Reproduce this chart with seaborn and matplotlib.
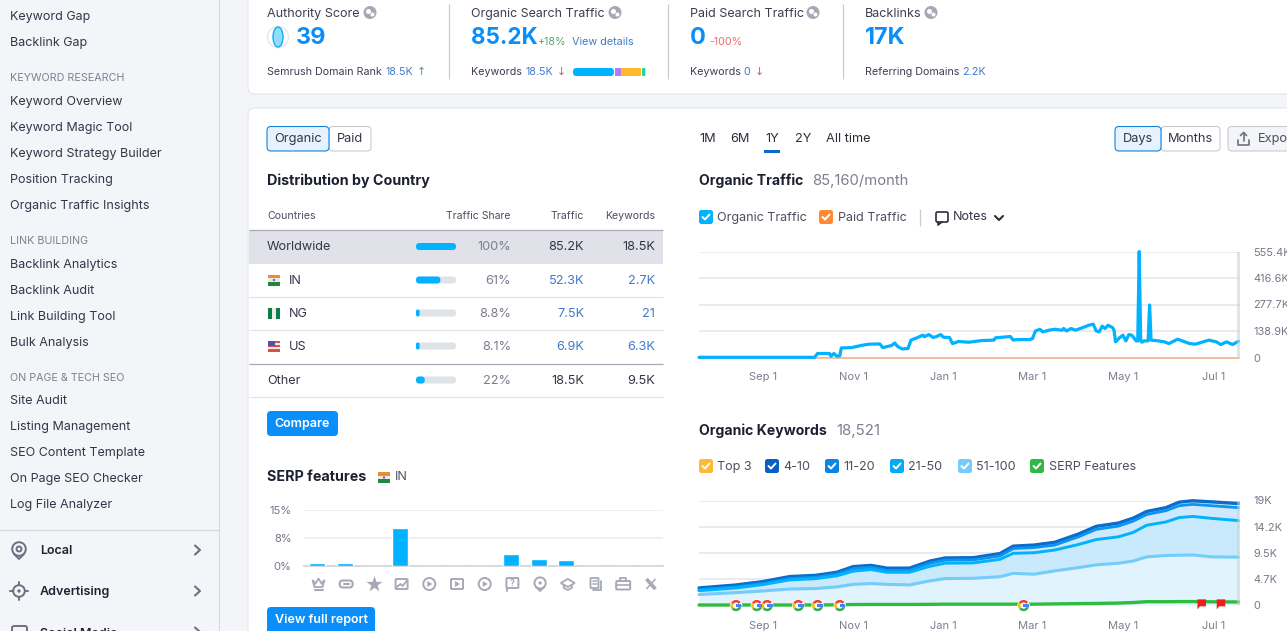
import matplotlib
matplotlib.use("Agg")
import matplotlib.pyplot as plt
from matplotlib.patches import FancyBboxPatch, Rectangle, Circle, Ellipse, Wedge, Polygon
import numpy as np
import pandas as pd
import seaborn as sns

# ---- data ----
# days are counted from start_date
start_date = "2023-07-20"
traffic_days = [0,78,80,88,89,91,93,95,96,103,110,115,122,124,130,132,134,137,141,143,147,151,152,155,158,160,163,165,169,171,
    175,182,191,199,200,210,212,214,219,223,225,227,230,232,236,240,245,246,248,251,254,259,263,266,268,270,272,274,276,279,
    280,281,284,286,288,290,292,295,296,297,298,299,300,303,304,305,310,314,317,323,326,331,335,341,344,349,352,356,360,364]
organic_traffic = [1,1,21,21,7,21,7,9,50,52,64,70,71,52,63,76,58,45,47,91,103,117,109,120,105,109,120,106,105,73,
    84,80,89,91,103,110,91,94,94,94,99,139,148,134,143,148,143,152,139,152,143,157,169,175,139,134,164,152,169,157,
    143,82,105,117,87,120,117,87,87,555,87,80,87,87,275,91,87,82,73,96,87,73,70,84,91,82,68,82,68,85]
paid_days = [0, 364]
paid_traffic = [0, 0]

kw_days = [0,25,43,61,79,93,104,116,127,142,156,166,185,203,212,226,240,256,268,283,293,302,315,324,333,346,364]
kw_top3 = [3.15,3.7,4.3,5.2,5.45,6.0,7.0,7.25,6.75,6.75,8.05,8.6,8.65,9.4,10.75,10.95,11.45,12.95,14.35,14.95,15.85,17.05,17.75,18.75,19.0,18.8,18.55]
kw_4_10 = [3.1,3.64,4.25,5.16,5.4,5.95,6.98,7.2,6.7,6.7,8.0,8.55,8.6,9.35,10.7,10.9,11.4,12.9,14.3,14.9,15.8,17.0,17.7,18.7,18.95,18.75,18.45]
kw_11_20 = [2.8,3.3,3.9,4.8,5.05,5.6,6.6,6.85,6.3,6.3,7.6,8.15,8.2,8.9,10.25,10.45,10.9,12.4,13.75,14.35,15.25,16.45,17.15,18.05,18.3,18.05,17.7]
kw_21_50 = [2.6,3.1,3.7,4.55,4.8,5.3,6.15,6.45,5.95,5.95,7.05,7.6,7.65,8.3,9.4,9.5,10.0,11.0,11.9,12.4,13.2,14.5,15.1,15.9,16.1,15.75,15.35]
kw_51_100 = [1.9,2.25,2.55,2.9,3.0,3.3,3.75,3.9,3.75,3.65,4.4,4.8,4.85,5.15,5.75,5.6,6.2,6.8,7.3,7.6,8.0,8.75,9.0,9.05,9.1,8.75,8.7]
kw_serp = [0,0,0,0,0,0.03,0.08,0.1,0.1,0.1,0.12,0.15,0.15,0.15,0.15,0.15,0.2,0.25,0.28,0.35,0.45,0.6,0.6,0.62,0.62,0.58,0.55]

update_days = [25,39,46,67,80,95,219]
note_days = [339, 352]

traffic_ticks = [0, 138.9, 277.7, 416.6, 555.4]
traffic_ticklabels = ["0", "138.9K", "277.7K", "416.6K", "555.4K"]
kw_ticks = [0, 4.75, 9.5, 14.25, 19]
kw_ticklabels = ["0", "4.7K", "9.5K", "14.2K", "19K"]
month_ticks = ["2023-09-01","2023-11-01","2024-01-01","2024-03-01","2024-05-01","2024-07-01"]
month_labels = ["Sep 1","Nov 1","Jan 1","Mar 1","May 1","Jul 1"]

serp_names = ["Local pack","Sitelinks","Reviews","Images","Video","Featured video","Top video","People also ask",
    "Local teaser","Knowledge panel","Top stories","Jobs","X"]
serp_values = [0.8,0.8,0,10.1,0,0,0,3.2,1.8,1.6,0,0,0]

countries = ["Worldwide","IN","NG","US","Other"]
share_vals = [100,61,8.8,8.1,22]
share_txt = ["100%","61%","8.8%","8.1%","22%"]
traffic_txt = ["85.2K","52.3K","7.5K","6.9K","18.5K"]
keywords_txt = ["18.5K","2.7K","21","6.3K","9.5K"]

side_items = [("Keyword Gap",16),("Backlink Gap",42),("Keyword Overview",101),("Keyword Magic Tool",127),
    ("Keyword Strategy Builder",153),("Position Tracking",179),("Organic Traffic Insights",205),
    ("Backlink Analytics",264),("Backlink Audit",290),("Link Building Tool",316),("Bulk Analysis",342),
    ("Site Audit",400),("Listing Management",426),("SEO Content Template",452),("On Page SEO Checker",478),
    ("Log File Analyzer",504)]
side_heads = [("KEYWORD RESEARCH",77),("LINK BUILDING",240),("ON PAGE & TECH SEO",377)]

W, H = 1287, 631
BG = "#f4f5f9"
DARK = "#2b2e3b"
BLUE = "#0a8ffa"
LINK = "#3f7cc9"
ICON = "#a6a9b5"

sns.set_theme(style="white")
plt.rcParams["font.family"] = ["Inter", "DejaVu Sans"]

fig = plt.figure(figsize=(W / 100, H / 100), dpi=100, facecolor=BG)


def px_axes(z):
    a = fig.add_axes([0, 0, 1, 1], zorder=z)
    a.set_xlim(0, W)
    a.set_ylim(H, 0)
    a.axis("off")
    a.patch.set_alpha(0)
    return a


ui = px_axes(0)
top = px_axes(5)


def txt(x, y, s, px=13, color=DARK, weight="normal", ha="left", a=None, **kw):
    (a or ui).text(x, y + 1.2, s, fontsize=px * 0.72, color=color, fontweight=weight, ha=ha, va="center", **kw)


def rrect(x0, y0, x1, y1, r=3, fc="white", ec="none", lw=0.8, z=1, a=None):
    p = FancyBboxPatch((x0 + r, y0 + r), x1 - x0 - 2 * r, y1 - y0 - 2 * r, boxstyle="round,pad=%f,rounding_size=%f" % (r, r),
                       fc=fc, ec=ec, lw=lw, zorder=z)
    (a or ui).add_patch(p)


def hline(x0, x1, y, color="#e2e4ea", lw=0.9, z=2):
    ui.plot([x0, x1], [y, y], color=color, lw=lw, zorder=z, solid_capstyle="butt")


def vline(x, y0, y1, color="#c9ccd4", lw=0.9):
    ui.plot([x, x], [y0, y1], color=color, lw=lw, zorder=2, solid_capstyle="butt")


def checkbox(cx, cy, color):
    rrect(cx - 7, cy - 7, cx + 7, cy + 7, r=2.5, fc=color, z=3)
    ui.plot([cx - 3.5, cx - 1, cx + 3.5], [cy, cy + 2.5, cy - 2.5], color="white", lw=1.4, zorder=4)


def globe(cx, cy):
    ui.add_patch(Circle((cx, cy), 6.5, fc=ICON, ec="none", zorder=3))
    ui.add_patch(Circle((cx - 1.5, cy - 1), 2.5, fc="white", ec="none", zorder=4))
    ui.add_patch(Circle((cx + 2.5, cy + 2), 2, fc="white", ec="none", zorder=4))


def flag(x, y, code):
    w, h = 12, 11
    if code == "IN":
        ui.add_patch(Rectangle((x, y), w, h / 3, fc="#ee8c35", lw=0, zorder=3))
        ui.add_patch(Rectangle((x, y + h / 3), w, h / 3, fc="#ecebe6", lw=0, zorder=3))
        ui.add_patch(Rectangle((x, y + 2 * h / 3), w, h / 3, fc="#25853a", lw=0, zorder=3))
        ui.add_patch(Circle((x + w / 2, y + h / 2), 1.2, fc="#5a6aa8", ec="none", zorder=4))
    elif code == "NG":
        ui.add_patch(Rectangle((x, y), w, h, fc="#ecebe6", lw=0, zorder=3))
        ui.add_patch(Rectangle((x, y), w / 3, h, fc="#0b7f49", lw=0, zorder=3))
        ui.add_patch(Rectangle((x + 2 * w / 3, y), w / 3, h, fc="#0b7f49", lw=0, zorder=3))
    elif code == "US":
        for i in range(5):
            ui.add_patch(Rectangle((x, y + i * 2.2), w, 2.2, fc="#d6504d" if i % 2 == 0 else "#f0e6e6", lw=0, zorder=3))
        ui.add_patch(Rectangle((x, y), 7, 5.5, fc="#4a56a6", lw=0, zorder=4))


# ---- sidebar ----
ui.add_patch(Rectangle((219, 0), 1, H, fc="#d4d6dd", lw=0, zorder=2))
for name, y in side_items:
    txt(10, y - 0.3, name, 12.5, "#33364a")
for name, y in side_heads:
    txt(10, y - 0.3, name, 10.7, "#7d8090")
hline(0, 219, 529.5, "#d4d6dd")
txt(40, 550, "Local", 12.5, "#1f2230", "semibold")
txt(40, 591, "Advertising", 12.5, "#1f2230", "semibold")
txt(40, 633, "Social Media", 12.5, "#1f2230", "semibold")
for y in [550, 591, 632]:
    ui.plot([195, 200, 195], [y - 4.5, y, y + 4.5], color="#6d7080", lw=1.5, zorder=3)
# local pin
ui.add_patch(Circle((19, 549), 6.8, fc="none", ec="#6d7080", lw=1.4, zorder=3))
ui.add_patch(Circle((19, 549), 2.5, fc="none", ec="#6d7080", lw=1.4, zorder=3))
ui.plot([14, 19, 24], [554, 559, 554], color="#6d7080", lw=1.4, zorder=3)
# advertising target
ui.add_patch(Circle((19, 591), 5.8, fc="none", ec="#6d7080", lw=1.4, zorder=3))
ui.add_patch(Circle((19, 591), 1.7, fc="#6d7080", ec="none", zorder=3))
ui.plot([10, 13], [591, 591], color="#6d7080", lw=1.4)
ui.plot([25, 28], [591, 591], color="#6d7080", lw=1.4)
ui.plot([19, 19], [582, 585], color="#6d7080", lw=1.4)
ui.plot([19, 19], [597, 600], color="#6d7080", lw=1.4)
rrect(12, 626, 27, 650, r=2, fc="none", ec="#6d7080", lw=1.4, z=3)

# ---- KPI card ----
rrect(248, -20, W + 30, 94, r=7, fc="white", ec="#e3e5ea")
vline(448.5, 4, 79)
vline(667.5, 4, 79)
vline(842.5, 4, 79)

txt(267, 12.5, "Authority Score", 12.6, "#3c3f4f")
globe(370, 12.5)
ui.add_patch(Circle((278, 37), 10.5, fc="white", ec="#e5e7ec", lw=1, zorder=3))
ui.add_patch(Ellipse((278, 37), 10, 20, fc="#8fdcff", ec="#12aef5", lw=1, zorder=4))
txt(296, 36.5, "39", 23.5, BLUE, "bold")
txt(267, 71, "Semrush Domain Rank", 10.7, "#3c3f4f")
txt(386, 71, "18.5K", 10.7, LINK)
txt(417, 71, "↑", 11, "#4f9c8c", family="DejaVu Sans")

txt(471, 12.5, "Organic Search Traffic", 12.4, "#3c3f4f")
globe(615, 12.5)
txt(471, 36.5, "85.2K", 22.4, BLUE, "bold")
txt(538, 41, "+18%", 10.7, "#5aa577")
txt(572, 41, "View details", 10.8, LINK)
txt(471, 71, "Keywords", 10.7, "#3c3f4f")
txt(525, 71, "18.5K", 10.7, LINK)
txt(557, 71, "↓", 11, "#e0584f", family="DejaVu Sans")
rrect(573, 68, 614, 76, r=3.5, fc="#00b2ff", z=3)
ui.add_patch(Rectangle((615, 68), 5.5, 8, fc="#b07cf0", lw=0, zorder=3))
ui.add_patch(Rectangle((621, 68), 20, 8, fc="#ffb92f", lw=0, zorder=3))
rrect(642, 68, 645.5, 76, r=1.2, fc="#1fd6a4", z=3)

txt(690, 12.5, "Paid Search Traffic", 12.6, "#3c3f4f")
globe(813, 12.5)
txt(690, 36.5, "0", 23.5, BLUE, "bold")
txt(709, 41, "-100%", 10.7, "#ee6a6a")
txt(690, 71, "Keywords", 10.7, "#3c3f4f")
txt(743, 71, "0", 10.7, LINK)
txt(755, 71, "↓", 11, "#e0584f", family="DejaVu Sans")

txt(865, 12.5, "Backlinks", 12.6, "#3c3f4f")
globe(931, 12.5)
txt(865, 36.5, "17K", 23.5, BLUE, "bold")
txt(865, 71, "Referring Domains", 10.7, "#3c3f4f")
txt(962, 71, "2.2K", 10.7, LINK)

# ---- main card ----
rrect(248, 108, W + 30, H + 30, r=7, fc="white", ec="#e3e5ea")

rrect(329, 126.5, 371, 151, r=4, fc="white", ec="#c8cbd3", z=2)
rrect(267, 126.5, 329, 151, r=4, fc="#e6f3fe", ec="#1583d8", z=3)
txt(298, 138, "Organic", 12.8, "#33364a", ha="center", a=top)
txt(350, 138, "Paid", 12.8, "#33364a", ha="center")

txt(267, 180, "Distribution by Country", 14.3, "#1d2030", "bold")

txt(267, 215, "Countries", 10.6, "#4c4f60")
txt(511, 215, "Traffic Share", 10.5, "#4c4f60", ha="right")
txt(584, 215, "Traffic", 10.6, "#4c4f60", ha="right")
txt(655, 215, "Keywords", 10.6, "#4c4f60", ha="right")

row_y = [246, 279.5, 312.5, 345.5, 379.5]
ui.add_patch(Rectangle((249, 230), 414, 33.5, fc="#e0e1e9", lw=0, zorder=1.5))
hline(249, 663, 230, "#a9acb7")
hline(249, 663, 296.5)
hline(249, 663, 329.5)
hline(249, 663, 363.5, "#a9acb7")
hline(249, 663, 396.5)
for i, name in enumerate(countries):
    y = row_y[i]
    if name in ("Worldwide", "Other"):
        txt(267, y, name, 12.7, "#33364a")
        vcol = "#33364a"
    else:
        flag(268, y - 5, name)
        txt(289, y, name, 12.7, "#33364a")
        vcol = LINK
    if share_vals[i] < 100:
        rrect(416, y - 3, 456, y + 4, r=3.4, fc="#dfe3e6", z=3)
    w = max(3.6, 40 * share_vals[i] / 100)
    rrect(416, y - 3, 416 + w, y + 4, r=min(3.4, w / 2 - 0.01), fc="#00b2ff", z=4)
    txt(511, y, share_txt[i], 12.8, "#7b7f8f", ha="right")
    txt(584, y, traffic_txt[i], 12.8, vcol, ha="right")
    txt(655, y, keywords_txt[i], 12.8, vcol, ha="right")

rrect(267, 411, 338, 436, r=4, fc=BLUE, z=3)
txt(302.5, 423, "Compare", 12.5, "white", "semibold", ha="center")

txt(267, 475.5, "SERP features", 14.3, "#1d2030", "bold")
flag(378, 472, "IN")
txt(395, 475.5, "IN", 12.5, "#4c4f60")

rrect(267, 607, 375, 650, r=4, fc=BLUE, z=3)
txt(321, 619, "View full report", 12.5, "white", "semibold", ha="center")

# ---- time range controls ----
for x, s in [(699, "1M"), (730, "6M"), (765, "1Y"), (795, "2Y"), (826, "All time")]:
    txt(x, 138, s, 12.8, "#2b2e3b")
ui.add_patch(Rectangle((764, 150), 16, 2.5, fc="#0a6cc4", lw=0, zorder=3))
rrect(1161, 126.5, 1220, 151, r=4, fc="white", ec="#c8cbd3", z=2)
rrect(1115, 126.5, 1161, 151, r=4, fc="#e6f3fe", ec="#1583d8", z=3)
txt(1138, 138, "Days", 12.8, "#33364a", ha="center", a=top)
txt(1190.5, 138, "Months", 12.8, "#33364a", ha="center")
rrect(1228, 126.5, W + 20, 151, r=4, fc="#f4f5f8", ec="#c8cbd3", z=2)
txt(1258, 138, "Export", 12.8, "#4c4f60")
ui.plot([1238, 1238, 1249, 1249], [140, 145, 145, 140], color="#6d7080", lw=1.2, zorder=3)
ui.plot([1243.5, 1243.5], [133, 141], color="#6d7080", lw=1.2, zorder=3)
ui.plot([1240.5, 1243.5, 1246.5], [135.5, 132.5, 135.5], color="#6d7080", lw=1.2, zorder=3)

# ---- headers and legends of the two charts ----
txt(699, 180, "Organic Traffic", 14.1, "#1d2030", "bold")
txt(812, 180, "85,160/month", 14.8, "#7b7f8f")
checkbox(706, 217, "#00b2ff")
txt(717, 216.5, "Organic Traffic", 12.6, "#4c4f60")
checkbox(826, 217, "#ff8a33")
txt(838, 216.5, "Paid Traffic", 12.6, "#4c4f60")
vline(919.5, 209, 226)
rrect(936, 212, 948, 222, r=1.5, fc="none", ec="#2b2e3b", lw=1.2, z=3)
ui.plot([938, 938, 942], [222, 225, 222], color="#2b2e3b", lw=1.2, zorder=3)
txt(953, 215.5, "Notes", 12.6, "#33364a")
ui.plot([995, 999, 1003], [216, 220, 216], color="#2b2e3b", lw=1.5, zorder=3)

txt(699, 430, "Organic Keywords", 14.1, "#1d2030", "bold")
txt(836, 430, "18,521", 15, "#7b7f8f")
legend_items = [(706, 717, "Top 3", "#ffb938"), (772, 783, "4-10", "#0a5ec4"), (832, 843, "11-20", "#0a85e0"),
                (897, 908, "21-50", "#00aaf5"), (965, 976, "51-100", "#74ccfb"), (1037, 1049, "SERP Features", "#2fb845")]
for bx, tx, s, c in legend_items:
    checkbox(bx, 466, c)
    txt(tx, 465.5, s, 12.6, "#4c4f60")


# ---- chart axes ----
def chart_axes(x0, x1, y0, y1):
    a = fig.add_axes([x0 / W, 1 - y1 / H, (x1 - x0) / W, (y1 - y0) / H], zorder=3)
    a.patch.set_alpha(0)
    return a


def days_to_dates(days):
    return pd.Timestamp(start_date) + pd.to_timedelta(np.array(days), unit="D")


xmin, xmax = pd.Timestamp(start_date), pd.Timestamp("2024-07-19")


def style_time_axes(a, ticks, labels, ymax, pad_x):
    sns.despine(ax=a, left=True, bottom=True, right=True, top=True)
    a.set_xlim(xmin, xmax)
    a.set_ylim(0, ymax)
    a.yaxis.tick_right()
    a.set_yticks(ticks)
    a.set_yticklabels(labels)
    a.set_xticks(pd.to_datetime(month_ticks))
    a.set_xticklabels(month_labels)
    a.tick_params(axis="y", length=0, pad=9.7, labelsize=7.9, labelcolor="#747888")
    a.tick_params(axis="x", length=0, pad=pad_x, labelsize=8, labelcolor="#7b7f8f")
    a.grid(axis="y", color="#e6e7ee", lw=1.2)
    a.grid(axis="x", visible=False)
    a.set_axisbelow(True)
    a.set_xlabel("")
    a.set_ylabel("")
    a.axvspan(pd.Timestamp("2024-07-17"), xmax, color="#c7cfd3", alpha=0.55, lw=0, zorder=8)


ax1 = chart_axes(699, 1240, 251.5, 357.5)
sns.lineplot(x=days_to_dates(paid_days), y=paid_traffic, ax=ax1, color="#f5b9a0", lw=1.4, zorder=3)
sns.lineplot(x=days_to_dates(traffic_days), y=organic_traffic, ax=ax1, color="#00b2ff", lw=2.3, zorder=4)
style_time_axes(ax1, traffic_ticks, traffic_ticklabels, 555.4, 10.5)
for l in ax1.lines:
    l.set_clip_on(False)

ax2 = chart_axes(699, 1240, 500.5, 605)
kd = days_to_dates(kw_days)
ax2.fill_between(kd, 0, kw_51_100, color="#e1f3fd", lw=0, zorder=2)
ax2.fill_between(kd, kw_51_100, kw_21_50, color="#c8eafc", lw=0, zorder=2)
ax2.fill_between(kd, kw_21_50, kw_4_10, color="#cfe8fb", lw=0, zorder=2)
sns.lineplot(x=kd, y=kw_top3, ax=ax2, color="#ffb938", lw=1.2, zorder=3)
sns.lineplot(x=kd, y=kw_4_10, ax=ax2, color="#0a6ccb", lw=2.4, zorder=4)
sns.lineplot(x=kd, y=kw_11_20, ax=ax2, color="#0a96f0", lw=2.0, zorder=5)
sns.lineplot(x=kd, y=kw_21_50, ax=ax2, color="#00b2ff", lw=2.1, zorder=6)
sns.lineplot(x=kd, y=kw_51_100, ax=ax2, color="#74ccfb", lw=2.2, zorder=6)
sns.lineplot(x=kd, y=kw_serp, ax=ax2, color="#2fbb3e", lw=2.4, zorder=7)
style_time_axes(ax2, kw_ticks, kw_ticklabels, 19, 11.5)
for l in ax2.lines:
    l.set_clip_on(False)

# ---- SERP bars ----
ax3 = chart_axes(303.5, 663, 510, 566)
sns.barplot(x=serp_names, y=serp_values, ax=ax3, color="#00b2ff", saturation=1, width=0.58, zorder=3)
ax3.set_xlim(-0.487, 12.49)
ax3.set_ylim(0, 15)
ax3.set_yticks([0, 7.5, 15])
ax3.set_yticklabels(["0%", "8%", "15%"])
ax3.set_xticks([])
ax3.tick_params(axis="y", length=0, pad=8.5, labelsize=8, labelcolor="#747888")
ax3.grid(axis="y", color="#eceef3", lw=1.2)
ax3.grid(axis="x", visible=False)
ax3.set_axisbelow(True)
ax3.set_xlabel("")
ax3.set_ylabel("")
sns.despine(ax=ax3, left=True, top=True, right=True, bottom=False)
ax3.spines["bottom"].set_color("#d6d8e0")
ax3.spines["bottom"].set_linewidth(1.4)
ax3.spines["bottom"].set_zorder(1)


# ---- overlay icons on the keyword chart ----
def to_px(a, day, v):
    d = matplotlib.dates.date2num(pd.Timestamp(start_date) + pd.Timedelta(days=day))
    dx, dy = a.transData.transform((d, v))
    return dx, H - dy


def g_icon(cx, cy):
    top.add_patch(Circle((cx, cy), 6.2, fc="white", ec="none", zorder=2))
    # y axis is flipped here, so angles run clockwise on screen
    for a0, a1, c in [(-150, -35, "#ea4335"), (140, 210, "#fbbc05"), (25, 140, "#34a853"), (-5, 25, "#4285f4")]:
        top.add_patch(Wedge((cx, cy), 5.6, a0, a1, width=2.5, fc=c, ec="none", zorder=3))
    top.add_patch(Rectangle((cx - 0.2, cy - 1.1), 5.6, 2.2, fc="#4285f4", lw=0, zorder=4))


for d in update_days:
    g_icon(*to_px(ax2, d, -0.1))

for d in note_days:
    fx, fy = to_px(ax2, d, 0.3)
    top.add_patch(Polygon([(fx - 4, fy - 4), (fx + 4.5, fy - 4), (fx + 4.5, fy + 3), (fx - 1.5, fy + 3),
                           (fx - 4, fy + 6)], fc="#f11d1d", ec="none", zorder=3))

# ---- SERP feature icons ----
ic = ICON
ix = [318.5 + 27.7 * i for i in range(13)]
iy = 584
# crown
top.add_patch(Polygon([(ix[0] - 6, iy - 4), (ix[0] - 3, iy - 0.5), (ix[0], iy - 5.5), (ix[0] + 3, iy - 0.5), (ix[0] + 6, iy - 4),
                       (ix[0] + 4, iy + 3), (ix[0] - 4, iy + 3)], fc="none", ec=ic, lw=1.3))
top.plot([ix[0] - 4, ix[0] + 4], [iy + 5.5, iy + 5.5], color=ic, lw=1.5)
# link
rrect(ix[1] - 6.5, iy - 3.5, ix[1] + 6.5, iy + 3.5, r=3.4, fc="none", ec=ic, lw=1.5, a=top)
top.plot([ix[1] - 2.5, ix[1] + 2.5], [iy, iy], color=ic, lw=1.5)
# star
top.scatter([ix[2]], [iy], marker="*", s=150, color=ic, lw=0)
# image
rrect(ix[3] - 6, iy - 5, ix[3] + 6, iy + 5, r=1, fc="none", ec=ic, lw=1.4, a=top)
top.plot([ix[3] - 5, ix[3] - 1, ix[3] + 1, ix[3] + 5], [iy + 3, iy, iy + 2, iy - 3], color=ic, lw=1.3)
# play circles
for k in (4, 6):
    top.add_patch(Circle((ix[k], iy), 6, fc="none", ec=ic, lw=1.4))
    top.add_patch(Polygon([(ix[k] - 2, iy - 3), (ix[k] + 3, iy), (ix[k] - 2, iy + 3)], fc=ic, ec="none"))
# video square
rrect(ix[5] - 6, iy - 5, ix[5] + 6, iy + 5, r=1, fc="none", ec=ic, lw=1.4, a=top)
top.add_patch(Polygon([(ix[5] - 2, iy - 3), (ix[5] + 3, iy), (ix[5] - 2, iy + 3)], fc=ic, ec="none"))
# question bubble
rrect(ix[7] - 6, iy - 6, ix[7] + 6, iy + 4, r=1, fc="none", ec=ic, lw=1.4, a=top)
top.plot([ix[7] - 5, ix[7] - 5], [iy + 4, iy + 7], color=ic, lw=1.4)
txt(ix[7], iy - 2, "?", 8.5, ic, "bold", ha="center", a=top)
# pin
top.add_patch(Circle((ix[8], iy - 1), 5.6, fc="none", ec=ic, lw=1.4))
top.add_patch(Circle((ix[8], iy - 1), 1.6, fc=ic, ec="none"))
top.plot([ix[8] - 4, ix[8], ix[8] + 4], [iy + 3, iy + 7, iy + 3], color=ic, lw=1.4)
# cap
top.add_patch(Polygon([(ix[9] - 7, iy - 1), (ix[9], iy - 5), (ix[9] + 7, iy - 1), (ix[9], iy + 3)], fc="none", ec=ic, lw=1.3))
top.plot([ix[9] - 4, ix[9] - 4, ix[9], ix[9] + 4, ix[9] + 4], [iy + 1, iy + 4, iy + 6, iy + 4, iy + 1], color=ic, lw=1.3)
# news
rrect(ix[10] - 5, iy - 6, ix[10] + 3, iy + 4, r=0.8, fc="none", ec=ic, lw=1.3, a=top)
top.plot([ix[10] - 3, ix[10] + 1], [iy - 3, iy - 3], color=ic, lw=1.1)
top.plot([ix[10] - 3, ix[10] + 1], [iy, iy], color=ic, lw=1.1)
top.plot([ix[10] + 5, ix[10] + 5, ix[10] - 3], [iy - 3, iy + 6, iy + 6], color=ic, lw=1.3)
# briefcase
rrect(ix[11] - 7, iy - 3, ix[11] + 7, iy + 5.5, r=1, fc="none", ec=ic, lw=1.4, a=top)
top.plot([ix[11] - 3, ix[11] - 3, ix[11] + 3, ix[11] + 3], [iy - 3, iy - 6, iy - 6, iy - 3], color=ic, lw=1.3)
top.plot([ix[11] - 7, ix[11] + 7], [iy + 1, iy + 1], color=ic, lw=1.2)
# x logo
top.plot([ix[12] - 4.5, ix[12] + 4.5], [iy - 5, iy + 5], color=ic, lw=2.6, solid_capstyle="butt")
top.plot([ix[12] + 4.5, ix[12] - 4.5], [iy - 5, iy + 5], color=ic, lw=1.1, solid_capstyle="butt")

fig.savefig("out.png", dpi=100, facecolor=BG)
